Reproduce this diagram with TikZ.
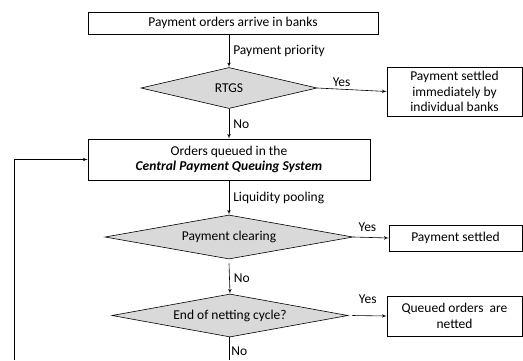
\documentclass[tikz,border=0pt]{standalone}
\usepackage{fontspec}
\setmainfont{Carlito}
\usepackage{tikz}
\usetikzlibrary{arrows}
\usetikzlibrary{shapes.geometric}
\definecolor{decgray}{RGB}{217,217,217}
\tikzset{
 procbox/.style={draw, rectangle, inner sep=1, align=center, line width=0.6pt},
 decision/.style={draw, diamond, fill=decgray, inner sep=0, line width=0.6pt},
 flow/.style={line width=0.6pt, ->, >=latex'},
 lbl/.style={inner sep=2}
}

\begin{document}
\begin{tikzpicture} [x=1pt, y=-1pt, font=\fontsize{13.5}{15.5}\selectfont]
\useasboundingbox (0,0) rectangle (523,360);
\node[procbox, minimum width=290, minimum height=22] (arrive) at (233,23) {Payment orders arrive in banks};
\node[decision, aspect=4.3, minimum width=176, minimum height=41] (rtgs) at (229,88) {RTGS};
\node[procbox, minimum width=135, minimum height=49] (immed) at (454.5,91.5) {Payment settled\\immediately by\\individual banks};
\node[procbox, minimum width=282, minimum height=41] (queue) at (229,159.5) {Orders queued in the\\\textbf{\textit{Central Payment Queuing System}}};
\node[decision, aspect=5.6, minimum width=248, minimum height=44] (clearing) at (229,237) {Payment clearing};
\node[procbox, minimum width=133, minimum height=26] (settled) at (455.5,238) {Payment settled};
\node[decision, aspect=5.5, minimum width=236, minimum height=43] (netting) at (230,315.5) {End of netting cycle?};
\node[procbox, minimum width=135, minimum height=40] (netted) at (454.5,316) {Queued orders\ \ are\\netted};
\coordinate (loopbot) at (14,360);
\coordinate (nobot) at (229,360);

% main line
\draw[flow] (rtgs.north |- arrive.south) -- (rtgs.north) node[lbl, midway, right, xshift=2] {Payment priority};
\draw[flow] (rtgs.south) -- (queue.north) node[lbl, midway, right, xshift=2] {No};
\draw[flow] (queue.south) -- (clearing.north) node[lbl, midway, right, xshift=2] {Liquidity pooling};
\draw[flow] (clearing.south) ++(0,4) -- (netting.north) node[lbl, midway, right, xshift=2] {No};
\draw[line width=0.6pt] (netting.south -| nobot) -- (nobot) node[lbl, pos=0.62, right] {No};

% yes branches
\draw[flow] (rtgs.east) -- (immed.west) node[lbl, pos=0.35, above] {Yes};
\draw[flow] (clearing.east) -- (settled.west) node[lbl, pos=0.4, above, yshift=4] {Yes};
\draw[flow] (netting.east) ++(4,0) -- (netted.west) node[lbl, pos=0.45, above, yshift=10] {Yes};

% loop back
\draw[flow] (loopbot) |- (queue.west);
\end{tikzpicture}
\end{document}
